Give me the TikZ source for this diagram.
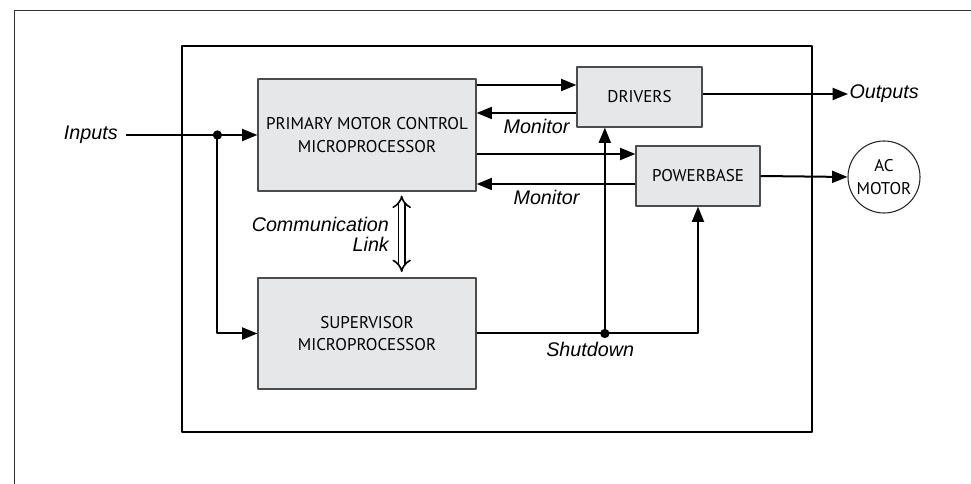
\documentclass[tikz,border=0pt]{standalone}
\usepackage{fontspec}
\setmainfont{Liberation Sans}
\newfontfamily\boxfont{PT Sans}
\usetikzlibrary{arrows.meta,positioning}
\definecolor{boxgray}{RGB}{230,231,232}
\begin{document}
\begin{tikzpicture}[x=0.75pt, y=-0.75pt, line join=round, >={Triangle[length=11.5pt,width=9pt]},
	blk/.style={draw=black!70, fill=boxgray, line width=0.9pt, align=center, inner sep=0pt, font=\boxfont\fontsize{12.75}{17}\selectfont},
	lbl/.style={inner sep=1pt, font=\fontsize{14.8}{15}\selectfont\itshape},
	arr/.style={->, line width=1.5pt}]
				%	\draw[color=gray!50,dashed] (0,0) grid[step=50] (971,484);
				\useasboundingbox (0,0) rectangle (971,484);
				\draw[black!80, line width=0.75pt] (14,484)--(14,11)--(971,11);
				\draw[line width=1.1pt] (182,46) rectangle (812,432);
				\node[blk, minimum width=163.5pt, minimum height=84pt] (prim) at (367,135) {PRIMARY MOTOR CONTROL\\MICROPROCESSOR};
				\node[blk, minimum width=163.5pt, minimum height=83.25pt] (sup) at (367,333.5) {SUPERVISOR\\MICROPROCESSOR};
				\node[blk, minimum width=93.75pt, minimum height=45pt] (drv) at (639.5,97) {DRIVERS};
				\node[blk, minimum width=93pt, minimum height=45pt] (pwr) at (698,176) {POWERBASE};
				\node[blk, circle, fill=white, minimum size=54pt, line width=0.8pt, draw=black!85, font=\boxfont\fontsize{12.75}{17.5}\selectfont] (motor) at (884,177) {AC\\MOTOR};
				\node[lbl, anchor=east, inner xsep=6pt] (inp) at (126,135) {Inputs};
				\node[lbl, anchor=west] (out) at (848,94) {Outputs};
				\coordinate (ij) at ([xshift=-30pt]prim.west);
				\coordinate (da) at ([yshift=9pt]drv.west);
				\coordinate (db) at ([yshift=-12pt]drv.west);
				\coordinate (pa) at ([yshift=16.5pt]pwr.west);
				\coordinate (pb) at ([yshift=-6pt]pwr.west);
				\coordinate (sj) at ([xshift=-26pt]drv.south |- sup.east);
				\draw[arr] (inp.east)--(prim.west);
				\draw[arr] (ij) |- (sup.west);
				\draw[arr] (prim.east |- da)--(da);
				\draw[arr] (db)--(prim.east |- db) node[lbl, pos=0.4, below=3pt]{Monitor};
				\draw[arr] (prim.east |- pa)--(pa);
				\draw[arr] (pb)--(prim.east |- pb) node[lbl, pos=0.56, below=3pt]{Monitor};
				\draw[arr] (drv.east |- out.west)--(out.west);
				\draw[arr] (pwr.east)--(motor.west);
				\draw[arr] (sup.east) -| (pwr.south);
				\draw[arr] (sj)--(sj |- drv.south);
				\draw[double, double distance=3.6pt, line width=1.2pt, {Implies}-{Implies}, shorten <=3pt, shorten >=4pt] ([xshift=26pt]prim.south)--([xshift=26pt]sup.north) node[lbl, midway, left=8pt, align=right]{Communication\\Link};
				\node[lbl, below=5pt, xshift=-11pt] at (sj) {Shutdown};
				\fill (ij) circle (3.5pt);
				\fill (sj) circle (3.5pt);
	\end{tikzpicture}
\end{document}
